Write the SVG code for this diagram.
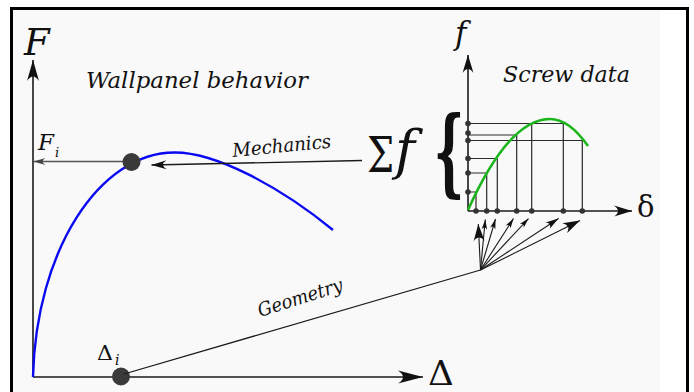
<svg xmlns="http://www.w3.org/2000/svg" width="694" height="392" viewBox="0 0 694 392">
<style>
text{font-family:'DejaVu Serif','Liberation Serif',serif;fill:#111}
.it{font-style:italic}
.ax{stroke:#1a1a1a;stroke-width:1.6;fill:none}
.grid{stroke:#2a2a2a;stroke-width:1.2;fill:none}
.fan{stroke:#1a1a1a;stroke-width:1.1;fill:none}
.sd{fill:#333}
</style>
<defs>
<marker id="ahX" markerUnits="userSpaceOnUse" orient="auto" overflow="visible" markerWidth="1" markerHeight="1"><path d="M0,0 L-25,-6.5 Q-15,0 -25,6.5 Z" fill="#111"/></marker>
<marker id="ahY" markerUnits="userSpaceOnUse" orient="auto" overflow="visible" markerWidth="1" markerHeight="1"><path d="M0,0 L-21,-6 Q-12,0 -21,6 Z" fill="#111"/></marker>
<marker id="ahS" markerUnits="userSpaceOnUse" orient="auto" overflow="visible" markerWidth="1" markerHeight="1"><path d="M0,0 L-18,-5.5 Q-10,0 -18,5.5 Z" fill="#111"/></marker>
<marker id="ahMech" markerUnits="userSpaceOnUse" orient="auto" overflow="visible" markerWidth="1" markerHeight="1"><path d="M0,0 L-15,-4.5 Q-8,0 -15,4.5 Z" fill="#111"/></marker>
<marker id="ahFi" markerUnits="userSpaceOnUse" orient="auto" overflow="visible" markerWidth="1" markerHeight="1"><path d="M0,0 L-12,-3.5 Q-6,0 -12,3.5 Z" fill="#444"/></marker>
<marker id="fanS" markerUnits="userSpaceOnUse" orient="auto" overflow="visible" markerWidth="1" markerHeight="1"><path d="M0,0 L-10,-2.8 Q-6,0 -10,2.8 Z" fill="#111"/></marker>
<marker id="fanM" markerUnits="userSpaceOnUse" orient="auto" overflow="visible" markerWidth="1" markerHeight="1"><path d="M0,0 L-13,-3.8 Q-8,0 -13,3.8 Z" fill="#111"/></marker>
<marker id="fanL" markerUnits="userSpaceOnUse" orient="auto" overflow="visible" markerWidth="1" markerHeight="1"><path d="M0,0 L-17,-5.5 Q-10,0 -17,5.5 Z" fill="#111"/></marker>
</defs>

<rect x="0" y="0" width="694" height="392" fill="#ffffff"/>
<rect x="13" y="10" width="647" height="382" fill="#f9f9f9"/>
<rect x="11.5" y="8.5" width="676" height="392" fill="none" stroke="#000" stroke-width="3"/>

<g id="wall-plot">
  <line class="ax" x1="33" y1="377" x2="33" y2="60" marker-end="url(#ahY)"/>
  <line class="ax" x1="33" y1="377" x2="423" y2="377" marker-end="url(#ahX)"/>
  <text class="it" x="24" y="55" font-size="37">F</text>
  <text x="0" y="0" font-size="34" transform="translate(428,385) scale(1.05,1)">Δ</text>
  <text class="it" x="86" y="88" font-size="23" textLength="222" lengthAdjust="spacingAndGlyphs">Wallpanel behavior</text>
  <path d="M33,377 C36,250 100,152 175,152.5 C215,152.5 278,185 333,230" fill="none" stroke="#0a0af0" stroke-width="2.4"/>
</g>

<g id="point-Fi">
  <line x1="128" y1="161.5" x2="33.5" y2="161.5" stroke="#555" stroke-width="1.3" marker-end="url(#ahFi)"/>
  <circle cx="131.5" cy="162" r="9" fill="#3a3a3a"/>
  <text class="it" x="38" y="150" font-size="23">F</text>
  <text class="it" x="55" y="157" font-size="13">i</text>
</g>

<g id="point-Di">
  <circle cx="121" cy="376.5" r="9" fill="#3a3a3a"/>
  <text x="0" y="0" font-size="21" transform="translate(97,360) scale(1.05,1)">Δ</text>
  <text class="it" x="115" y="365" font-size="14">i</text>
</g>

<g id="sum-f">
  <text x="0" y="0" font-size="48" transform="translate(367,172) scale(0.8,1)">Σ</text>
  <text class="it" x="395" y="169" font-size="54">f</text>
  <text x="0" y="0" font-size="95" font-weight="bold" transform="translate(433.7,185) scale(0.5,1)">{</text>
</g>

<g id="screw-plot">
  <line class="ax" x1="468" y1="211" x2="468" y2="55" marker-end="url(#ahS)"/>
  <line class="ax" x1="468" y1="211" x2="632" y2="211" marker-end="url(#ahS)"/>
  <text class="it" x="455" y="44" font-size="31">f</text>
  <text x="637" y="217" font-size="29">δ</text>
  <text class="it" x="503" y="82" font-size="23" textLength="127" lengthAdjust="spacingAndGlyphs">Screw data</text>
  <g class="grid">
    <path d="M468,123.5 H563.3 M468,135 H516.7 M468,140.5 H582.3 M468,158.5 H497.3 M468,173 H486.7 M468,192 H476"/>
    <path d="M476,192 V211 M486.7,173 V211 M497.3,158.5 V211 M516.7,135 V211 M531.7,123.5 V211 M563.3,123.5 V211 M582.3,140.5 V211"/>
  </g>
  <g class="sd">
    <circle cx="468" cy="123.5" r="2.8"/><circle cx="468" cy="133" r="2.8"/><circle cx="468" cy="140.5" r="2.8"/>
    <circle cx="468" cy="158.5" r="2.8"/><circle cx="468" cy="173" r="2.8"/><circle cx="468" cy="192" r="2.8"/>
    <circle cx="476" cy="211" r="2.8"/><circle cx="486.7" cy="211" r="2.8"/><circle cx="497.3" cy="211" r="2.8"/>
    <circle cx="516.7" cy="211" r="2.8"/><circle cx="531.7" cy="211" r="2.8"/><circle cx="563.3" cy="211" r="2.8"/>
    <circle cx="582.3" cy="211" r="2.8"/>
  </g>
  <path d="M468,210 Q509,119 550,119 Q569,119 588,146" fill="none" stroke="#1db51d" stroke-width="2.6"/>
</g>

<g id="connectors">
  <line x1="362" y1="160.5" x2="151.5" y2="165" stroke="#1a1a1a" stroke-width="1.3" marker-end="url(#ahMech)"/>
  <text class="it" x="0" y="0" font-size="19" textLength="99" lengthAdjust="spacingAndGlyphs" transform="translate(233,157) rotate(-5.5)">Mechanics</text>
  <line x1="124" y1="374" x2="480.5" y2="270" stroke="#1a1a1a" stroke-width="1.3"/>
  <text class="it" x="0" y="0" font-size="19" textLength="88" lengthAdjust="spacingAndGlyphs" transform="translate(260,317) rotate(-17.5)">Geometry</text>
  <line class="fan" x1="480.5" y1="270" x2="478.3" y2="224" marker-end="url(#fanL)"/>
  <line class="fan" x1="480.5" y1="270" x2="485.3" y2="219.5" marker-end="url(#fanS)"/>
  <line class="fan" x1="480.5" y1="270" x2="495.5" y2="219" marker-end="url(#fanS)"/>
  <line class="fan" x1="480.5" y1="270" x2="513.5" y2="218.5" marker-end="url(#fanS)"/>
  <line class="fan" x1="480.5" y1="270" x2="528.5" y2="218.5" marker-end="url(#fanS)"/>
  <line class="fan" x1="480.5" y1="270" x2="558.5" y2="218.5" marker-end="url(#fanM)"/>
  <line class="fan" x1="480.5" y1="270" x2="580" y2="220.5" marker-end="url(#fanL)"/>
</g>
</svg>
